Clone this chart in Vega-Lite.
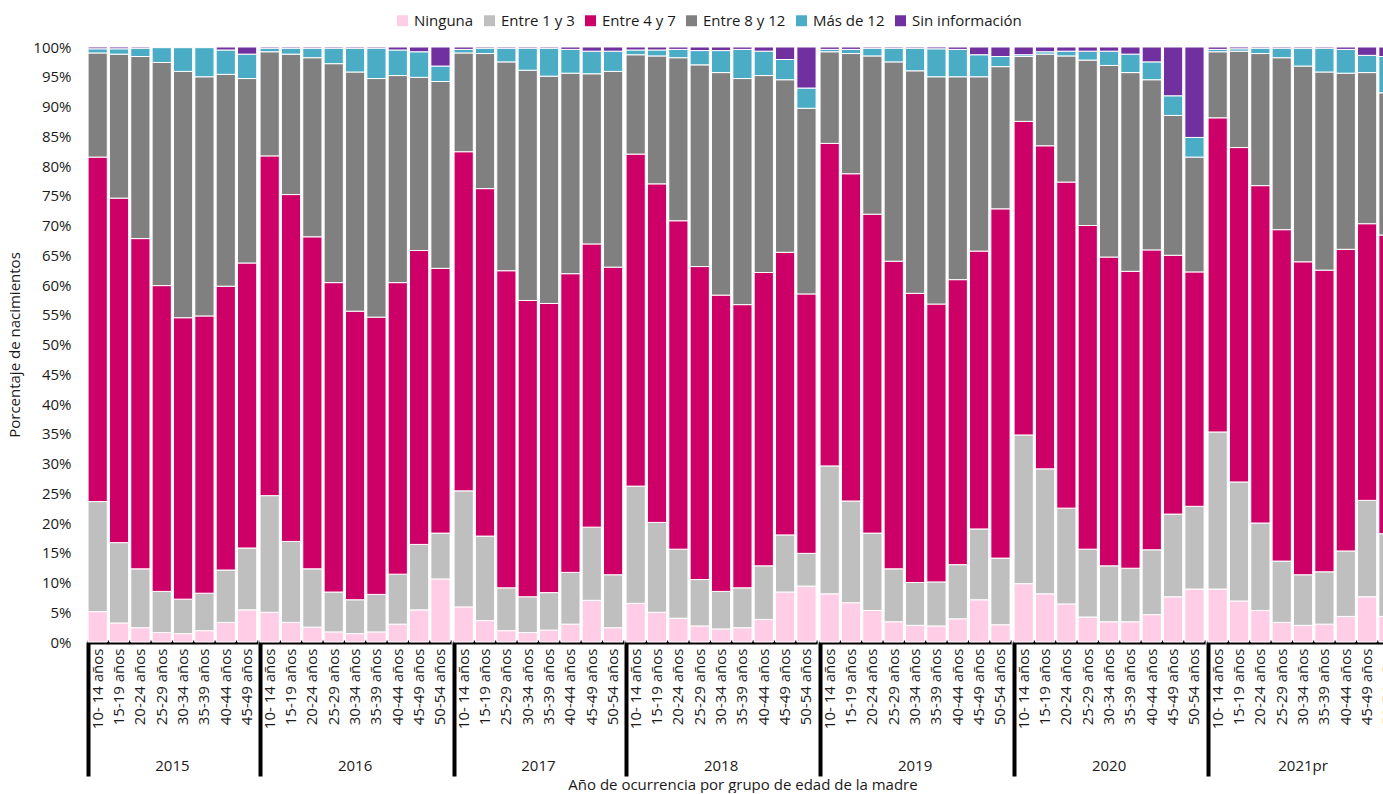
{
  "$schema": "https://vega.github.io/schema/vega-lite/v6.json",
  "padding": {"left": 7, "top": 13, "right": 0, "bottom": 0},
  "config": {
    "font": "Open Sans",
    "view": {"stroke": null},
    "axis": {"labelColor": "#1a1a1a", "titleColor": "#1a1a1a"}
  },
  "data": {
    "values": [
      {"year":"2015","age":"10- 14 años","Ninguna":5.1,"Entre 1 y 3":18.5,"Entre 4 y 7":57.9,"Entre 8 y 12":17.5,"Más de 12":0.7,"Sin información":0.3},
      {"year":"2015","age":"15-19 años","Ninguna":3.2,"Entre 1 y 3":13.5,"Entre 4 y 7":57.9,"Entre 8 y 12":24.2,"Más de 12":0.9,"Sin información":0.3},
      {"year":"2015","age":"20-24 años","Ninguna":2.4,"Entre 1 y 3":9.9,"Entre 4 y 7":55.5,"Entre 8 y 12":30.6,"Más de 12":1.4,"Sin información":0.2},
      {"year":"2015","age":"25-29 años","Ninguna":1.6,"Entre 1 y 3":6.9,"Entre 4 y 7":51.4,"Entre 8 y 12":37.5,"Más de 12":2.5,"Sin información":0.1},
      {"year":"2015","age":"30-34 años","Ninguna":1.4,"Entre 1 y 3":5.8,"Entre 4 y 7":47.3,"Entre 8 y 12":41.4,"Más de 12":4.0,"Sin información":0.1},
      {"year":"2015","age":"35-39 años","Ninguna":1.9,"Entre 1 y 3":6.3,"Entre 4 y 7":46.6,"Entre 8 y 12":40.2,"Más de 12":4.9,"Sin información":0.1},
      {"year":"2015","age":"40-44 años","Ninguna":3.3,"Entre 1 y 3":8.8,"Entre 4 y 7":47.7,"Entre 8 y 12":35.6,"Más de 12":4.1,"Sin información":0.5},
      {"year":"2015","age":"45-49 años","Ninguna":5.4,"Entre 1 y 3":10.4,"Entre 4 y 7":47.9,"Entre 8 y 12":31.0,"Más de 12":4.1,"Sin información":1.2},
      {"year":"2016","age":"10- 14 años","Ninguna":5.0,"Entre 1 y 3":19.6,"Entre 4 y 7":57.1,"Entre 8 y 12":17.5,"Más de 12":0.6,"Sin información":0.2},
      {"year":"2016","age":"15-19 años","Ninguna":3.3,"Entre 1 y 3":13.6,"Entre 4 y 7":58.3,"Entre 8 y 12":23.6,"Más de 12":1.0,"Sin información":0.2},
      {"year":"2016","age":"20-24 años","Ninguna":2.5,"Entre 1 y 3":9.8,"Entre 4 y 7":55.8,"Entre 8 y 12":30.1,"Más de 12":1.6,"Sin información":0.2},
      {"year":"2016","age":"25-29 años","Ninguna":1.7,"Entre 1 y 3":6.7,"Entre 4 y 7":52.0,"Entre 8 y 12":36.8,"Más de 12":2.6,"Sin información":0.2},
      {"year":"2016","age":"30-34 años","Ninguna":1.4,"Entre 1 y 3":5.7,"Entre 4 y 7":48.5,"Entre 8 y 12":40.2,"Más de 12":4.0,"Sin información":0.2},
      {"year":"2016","age":"35-39 años","Ninguna":1.7,"Entre 1 y 3":6.3,"Entre 4 y 7":46.6,"Entre 8 y 12":40.1,"Más de 12":5.1,"Sin información":0.2},
      {"year":"2016","age":"40-44 años","Ninguna":3.0,"Entre 1 y 3":8.4,"Entre 4 y 7":49.0,"Entre 8 y 12":34.8,"Más de 12":4.3,"Sin información":0.5},
      {"year":"2016","age":"45-49 años","Ninguna":5.4,"Entre 1 y 3":11.0,"Entre 4 y 7":49.4,"Entre 8 y 12":29.1,"Más de 12":4.3,"Sin información":0.8},
      {"year":"2016","age":"50-54 años","Ninguna":10.6,"Entre 1 y 3":7.7,"Entre 4 y 7":44.5,"Entre 8 y 12":31.4,"Más de 12":2.6,"Sin información":3.2},
      {"year":"2017","age":"10- 14 años","Ninguna":5.9,"Entre 1 y 3":19.5,"Entre 4 y 7":57.0,"Entre 8 y 12":16.6,"Más de 12":0.6,"Sin información":0.4},
      {"year":"2017","age":"15-19 años","Ninguna":3.6,"Entre 1 y 3":14.2,"Entre 4 y 7":58.4,"Entre 8 y 12":22.7,"Más de 12":0.9,"Sin información":0.2},
      {"year":"2017","age":"25-29 años","Ninguna":1.9,"Entre 1 y 3":7.2,"Entre 4 y 7":53.3,"Entre 8 y 12":35.1,"Más de 12":2.3,"Sin información":0.2},
      {"year":"2017","age":"30-34 años","Ninguna":1.6,"Entre 1 y 3":6.0,"Entre 4 y 7":49.8,"Entre 8 y 12":38.7,"Más de 12":3.7,"Sin información":0.2},
      {"year":"2017","age":"35-39 años","Ninguna":2.0,"Entre 1 y 3":6.3,"Entre 4 y 7":48.6,"Entre 8 y 12":38.2,"Más de 12":4.7,"Sin información":0.2},
      {"year":"2017","age":"40-44 años","Ninguna":3.0,"Entre 1 y 3":8.7,"Entre 4 y 7":50.2,"Entre 8 y 12":33.7,"Más de 12":4.0,"Sin información":0.4},
      {"year":"2017","age":"45-49 años","Ninguna":7.0,"Entre 1 y 3":12.3,"Entre 4 y 7":47.6,"Entre 8 y 12":28.6,"Más de 12":3.8,"Sin información":0.7},
      {"year":"2017","age":"50-54 años","Ninguna":2.4,"Entre 1 y 3":8.9,"Entre 4 y 7":51.7,"Entre 8 y 12":32.9,"Más de 12":3.4,"Sin información":0.7},
      {"year":"2018","age":"10- 14 años","Ninguna":6.5,"Entre 1 y 3":19.7,"Entre 4 y 7":55.8,"Entre 8 y 12":16.7,"Más de 12":0.8,"Sin información":0.5},
      {"year":"2018","age":"15-19 años","Ninguna":5.0,"Entre 1 y 3":15.1,"Entre 4 y 7":56.9,"Entre 8 y 12":21.5,"Más de 12":1.0,"Sin información":0.5},
      {"year":"2018","age":"20-24 años","Ninguna":4.0,"Entre 1 y 3":11.6,"Entre 4 y 7":55.2,"Entre 8 y 12":27.4,"Más de 12":1.4,"Sin información":0.4},
      {"year":"2018","age":"25-29 años","Ninguna":2.7,"Entre 1 y 3":7.8,"Entre 4 y 7":52.6,"Entre 8 y 12":33.9,"Más de 12":2.4,"Sin información":0.6},
      {"year":"2018","age":"30-34 años","Ninguna":2.2,"Entre 1 y 3":6.3,"Entre 4 y 7":49.8,"Entre 8 y 12":37.4,"Más de 12":3.7,"Sin información":0.6},
      {"year":"2018","age":"35-39 años","Ninguna":2.4,"Entre 1 y 3":6.7,"Entre 4 y 7":47.6,"Entre 8 y 12":38.0,"Más de 12":4.9,"Sin información":0.4},
      {"year":"2018","age":"40-44 años","Ninguna":3.8,"Entre 1 y 3":9.0,"Entre 4 y 7":49.3,"Entre 8 y 12":33.1,"Más de 12":4.1,"Sin información":0.7},
      {"year":"2018","age":"45-49 años","Ninguna":8.4,"Entre 1 y 3":9.6,"Entre 4 y 7":47.5,"Entre 8 y 12":29.0,"Más de 12":3.4,"Sin información":2.1},
      {"year":"2018","age":"50-54 años","Ninguna":9.4,"Entre 1 y 3":5.5,"Entre 4 y 7":43.6,"Entre 8 y 12":31.2,"Más de 12":3.4,"Sin información":6.9},
      {"year":"2019","age":"10- 14 años","Ninguna":8.1,"Entre 1 y 3":21.5,"Entre 4 y 7":54.2,"Entre 8 y 12":15.4,"Más de 12":0.4,"Sin información":0.4},
      {"year":"2019","age":"15-19 años","Ninguna":6.6,"Entre 1 y 3":17.1,"Entre 4 y 7":55.0,"Entre 8 y 12":20.2,"Más de 12":0.7,"Sin información":0.4},
      {"year":"2019","age":"20-24 años","Ninguna":5.3,"Entre 1 y 3":13.0,"Entre 4 y 7":53.6,"Entre 8 y 12":26.6,"Más de 12":1.3,"Sin información":0.2},
      {"year":"2019","age":"25-29 años","Ninguna":3.4,"Entre 1 y 3":8.9,"Entre 4 y 7":51.7,"Entre 8 y 12":33.5,"Más de 12":2.3,"Sin información":0.2},
      {"year":"2019","age":"30-34 años","Ninguna":2.8,"Entre 1 y 3":7.2,"Entre 4 y 7":48.6,"Entre 8 y 12":37.4,"Más de 12":3.8,"Sin información":0.2},
      {"year":"2019","age":"35-39 años","Ninguna":2.7,"Entre 1 y 3":7.4,"Entre 4 y 7":46.7,"Entre 8 y 12":38.2,"Más de 12":4.7,"Sin información":0.3},
      {"year":"2019","age":"40-44 años","Ninguna":3.9,"Entre 1 y 3":9.1,"Entre 4 y 7":47.9,"Entre 8 y 12":34.1,"Más de 12":4.6,"Sin información":0.4},
      {"year":"2019","age":"45-49 años","Ninguna":7.1,"Entre 1 y 3":11.9,"Entre 4 y 7":46.7,"Entre 8 y 12":29.3,"Más de 12":3.7,"Sin información":1.3},
      {"year":"2019","age":"50-54 años","Ninguna":2.9,"Entre 1 y 3":11.2,"Entre 4 y 7":58.7,"Entre 8 y 12":23.9,"Más de 12":1.7,"Sin información":1.6},
      {"year":"2020","age":"10- 14 años","Ninguna":9.8,"Entre 1 y 3":25.0,"Entre 4 y 7":52.7,"Entre 8 y 12":10.9,"Más de 12":0.3,"Sin información":1.3},
      {"year":"2020","age":"15-19 años","Ninguna":8.1,"Entre 1 y 3":21.0,"Entre 4 y 7":54.3,"Entre 8 y 12":15.4,"Más de 12":0.4,"Sin información":0.8},
      {"year":"2020","age":"20-24 años","Ninguna":6.4,"Entre 1 y 3":16.1,"Entre 4 y 7":54.8,"Entre 8 y 12":21.2,"Más de 12":0.8,"Sin información":0.7},
      {"year":"2020","age":"25-29 años","Ninguna":4.2,"Entre 1 y 3":11.4,"Entre 4 y 7":54.4,"Entre 8 y 12":27.8,"Más de 12":1.5,"Sin información":0.7},
      {"year":"2020","age":"30-34 años","Ninguna":3.4,"Entre 1 y 3":9.4,"Entre 4 y 7":51.9,"Entre 8 y 12":32.2,"Más de 12":2.4,"Sin información":0.7},
      {"year":"2020","age":"35-39 años","Ninguna":3.4,"Entre 1 y 3":9.0,"Entre 4 y 7":49.9,"Entre 8 y 12":33.4,"Más de 12":3.1,"Sin información":1.2},
      {"year":"2020","age":"40-44 años","Ninguna":4.6,"Entre 1 y 3":10.9,"Entre 4 y 7":50.4,"Entre 8 y 12":28.6,"Más de 12":3.0,"Sin información":2.5},
      {"year":"2020","age":"45-49 años","Ninguna":7.6,"Entre 1 y 3":13.9,"Entre 4 y 7":43.5,"Entre 8 y 12":23.5,"Más de 12":3.3,"Sin información":8.2},
      {"year":"2020","age":"50-54 años","Ninguna":8.9,"Entre 1 y 3":13.9,"Entre 4 y 7":39.4,"Entre 8 y 12":19.3,"Más de 12":3.3,"Sin información":15.2},
      {"year":"2021pr","age":"10- 14 años","Ninguna":8.9,"Entre 1 y 3":26.4,"Entre 4 y 7":52.8,"Entre 8 y 12":11.1,"Más de 12":0.4,"Sin información":0.4},
      {"year":"2021pr","age":"15-19 años","Ninguna":6.9,"Entre 1 y 3":20.0,"Entre 4 y 7":56.2,"Entre 8 y 12":16.2,"Más de 12":0.4,"Sin información":0.3},
      {"year":"2021pr","age":"20-24 años","Ninguna":5.3,"Entre 1 y 3":14.7,"Entre 4 y 7":56.7,"Entre 8 y 12":22.2,"Más de 12":0.9,"Sin información":0.2},
      {"year":"2021pr","age":"25-29 años","Ninguna":3.3,"Entre 1 y 3":10.3,"Entre 4 y 7":55.7,"Entre 8 y 12":28.9,"Más de 12":1.6,"Sin información":0.2},
      {"year":"2021pr","age":"30-34 años","Ninguna":2.8,"Entre 1 y 3":8.5,"Entre 4 y 7":52.6,"Entre 8 y 12":32.9,"Más de 12":3.0,"Sin información":0.2},
      {"year":"2021pr","age":"35-39 años","Ninguna":3.0,"Entre 1 y 3":8.8,"Entre 4 y 7":50.7,"Entre 8 y 12":33.3,"Más de 12":4.0,"Sin información":0.2},
      {"year":"2021pr","age":"40-44 años","Ninguna":4.3,"Entre 1 y 3":11.0,"Entre 4 y 7":50.7,"Entre 8 y 12":29.6,"Más de 12":4.0,"Sin información":0.4},
      {"year":"2021pr","age":"45-49 años","Ninguna":7.6,"Entre 1 y 3":16.2,"Entre 4 y 7":46.5,"Entre 8 y 12":25.4,"Más de 12":2.9,"Sin información":1.4},
      {"year":"2021pr","age":"50-54 años","Ninguna":4.3,"Entre 1 y 3":13.9,"Entre 4 y 7":50.2,"Entre 8 y 12":23.9,"Más de 12":6.1,"Sin información":1.6}
    ]
  },
  "transform": [
    {"fold": ["Ninguna", "Entre 1 y 3", "Entre 4 y 7", "Entre 8 y 12", "Más de 12", "Sin información"], "as": ["cat", "pct"]},
    {"calculate": "indexof(['Ninguna','Entre 1 y 3','Entre 4 y 7','Entre 8 y 12','Más de 12','Sin información'], datum.cat)", "as": "ord"}
  ],
  "facet": {
    "column": {
      "field": "year",
      "type": "nominal",
      "title": "Año de ocurrencia por grupo de edad de la madre",
      "header": {
        "labelOrient": "bottom",
        "titleOrient": "bottom",
        "labelFontSize": 15,
        "labelColor": "#1a1a1a",
        "labelPadding": -19,
        "titleFontSize": 15,
        "titleFontWeight": "normal",
        "titleColor": "#1a1a1a",
        "titlePadding": -10
      }
    }
  },
  "spacing": 0,
  "resolve": {"scale": {"x": "independent"}},
  "spec": {
    "width": {"step": 21.35},
    "height": 595,
    "mark": {"type": "bar", "stroke": "white", "strokeWidth": 1},
    "encoding": {
      "x": {
        "field": "age",
        "type": "nominal",
        "scale": {"paddingInner": 0.1, "paddingOuter": 0.05},
        "axis": {
          "title": null,
          "labelAngle": -90,
          "labelFontSize": 15,
          "labelPadding": -128,
          "domainColor": "black",
          "domainWidth": 4,
          "bandPosition": 0,
          "tickSize": 134,
          "tickWidth": 4,
          "tickColor": "black",
          "tickOpacity": {"condition": {"test": "datum.value === '10- 14 años'", "value": 1}, "value": 0}
        }
      },
      "y": {
        "field": "pct",
        "type": "quantitative",
        "stack": "normalize",
        "scale": {"domain": [0, 1]},
        "axis": {
          "title": "Porcentaje de nacimientos",
          "titleFontSize": 15,
          "titleFontWeight": "normal",
          "titlePadding": 10,
          "labelFontSize": 15,
          "format": ".0%",
          "values": [0,0.05,0.1,0.15,0.2,0.25,0.3,0.35,0.4,0.45,0.5,0.55,0.6,0.65,0.7,0.75,0.8,0.85,0.9,0.95,1],
          "grid": false,
          "domain": false,
          "ticks": false,
          "labelPadding": 15
        }
      },
      "color": {
        "field": "cat",
        "type": "nominal",
        "scale": {
          "domain": ["Ninguna", "Entre 1 y 3", "Entre 4 y 7", "Entre 8 y 12", "Más de 12", "Sin información"],
          "range": ["#FFCDE6", "#BFBFBF", "#CC0066", "#808080", "#4BACC6", "#7030A0"]
        },
        "legend": {
          "title": null,
          "orient": "none",
          "direction": "horizontal",
          "legendX": 308,
          "legendY": -34,
          "labelFontSize": 15,
          "labelColor": "#1a1a1a",
          "symbolType": "square",
          "symbolSize": 120,
          "symbolStrokeWidth": 0,
          "labelOffset": 4,
          "columnPadding": 8
        }
      },
      "order": {"field": "ord", "type": "quantitative", "sort": "ascending"}
    }
  }
}
